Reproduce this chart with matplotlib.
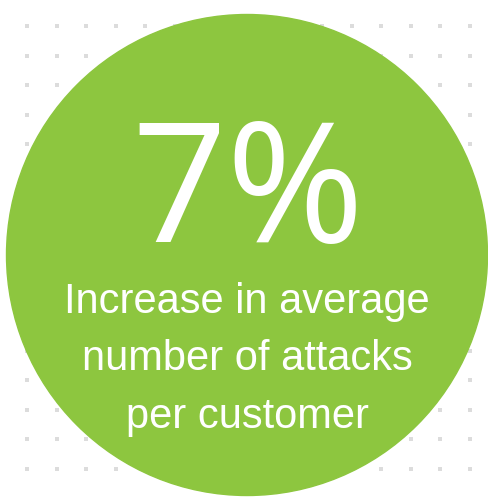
import matplotlib
matplotlib.use("Agg")
import matplotlib.pyplot as plt
from matplotlib.patches import Circle
import numpy as np

W, H = 489, 497
headline = "7%"
caption_lines = ["Increase in average", "number of attacks", "per customer"]
green = "#8DC63F"

fig = plt.figure(figsize=(W / 100, H / 100), dpi=100)
ax = fig.add_axes([0, 0, 1, 1])
ax.set_xlim(0, W)
ax.set_ylim(H, 0)
ax.axis("off")

# dotted background grid
gx = np.linspace(27, 470, 16)
gy = np.linspace(26, 469, 16)
XX, YY = np.meshgrid(gx, gy)
ax.scatter(XX.ravel(), YY.ravel(), s=5, marker="s", color="#dcdcdc", linewidths=0, zorder=1)

ax.add_patch(Circle((247, 255), 240.5, color=green, zorder=2, antialiased=True))

ax.text(248, 242, headline, ha="center", va="baseline", color="white",
        fontsize=120, family="Open Sans", fontweight="medium", zorder=3)

baselines = [313, 370, 428]
for line, yb in zip(caption_lines, baselines):
    ax.text(247, yb, line, ha="center", va="baseline", color="white",
            fontsize=30, family="Liberation Sans", zorder=3)

fig.savefig("out.png", dpi=100)
